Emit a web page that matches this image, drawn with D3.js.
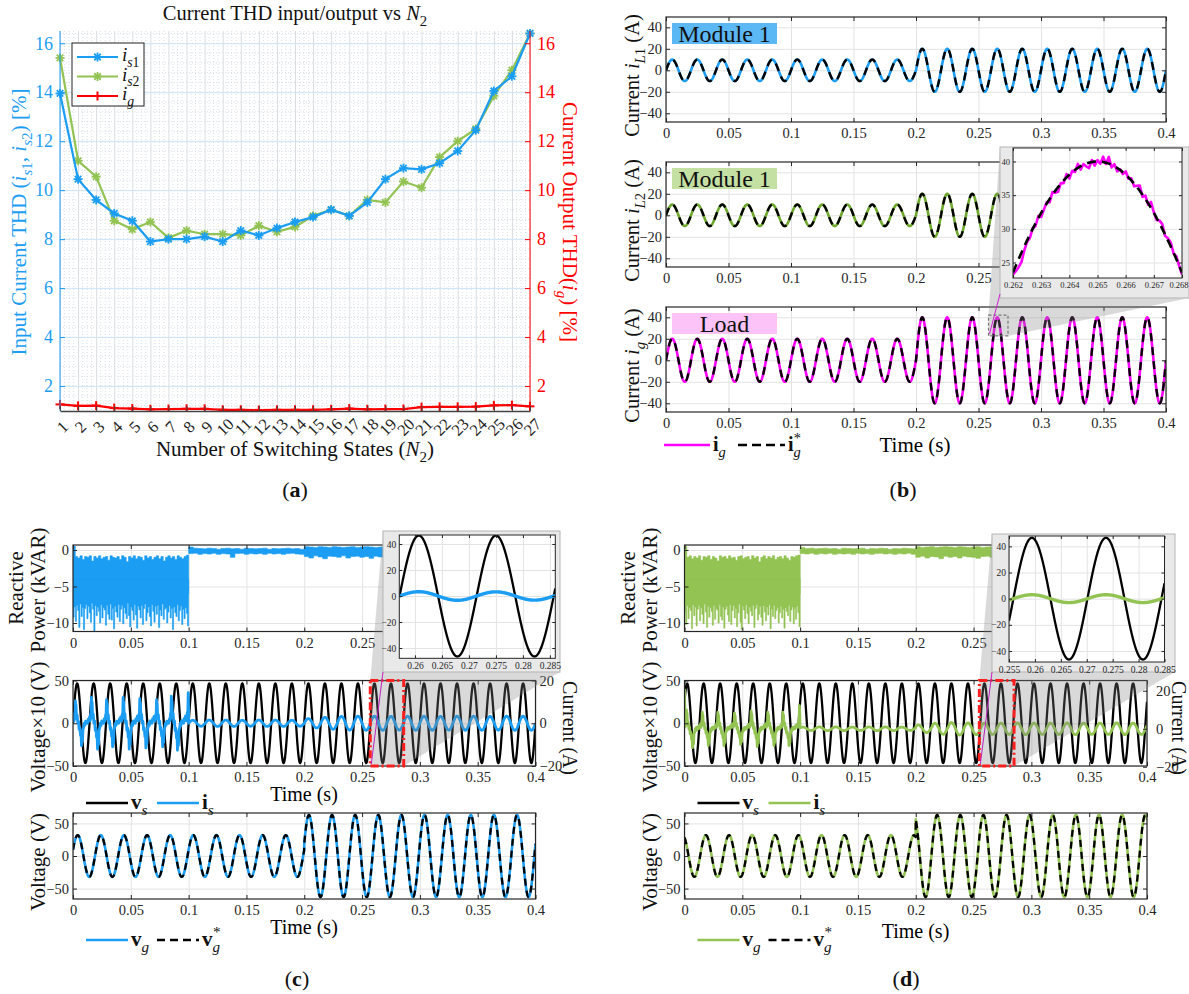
<!DOCTYPE html>
<html><head><meta charset="utf-8">
<script src="https://cdn.jsdelivr.net/npm/d3@7"></script>
<style>
body{margin:0;background:#fff;}
svg{display:block;font-family:"Liberation Serif","DejaVu Serif",serif;}
</style></head><body>
<script>
// ================= DATA =================
// (a) THD vs number of switching states
const n2States = [1,2,3,4,5,6,7,8,9,10,11,12,13,14,15,16,17,18,19,20,21,22,23,24,25,26,27];
const thdIs1 = [13.95,10.45,9.6,9.05,8.75,7.9,8.0,8.0,8.1,7.9,8.35,8.15,8.45,8.7,8.9,9.2,8.95,9.5,10.45,10.9,10.85,11.1,11.6,12.45,14.05,14.65,16.4];
const thdIs2 = [15.4,11.2,10.55,8.75,8.4,8.7,8.05,8.35,8.2,8.2,8.15,8.55,8.3,8.5,8.95,9.2,8.95,9.6,9.5,10.35,10.1,11.35,12.0,12.5,13.85,14.9,16.4];
const thdIg  = [1.25,1.19,1.2,1.1,1.08,1.05,1.06,1.07,1.07,1.03,1.03,1.02,1.03,1.03,1.03,1.05,1.08,1.05,1.06,1.06,1.14,1.15,1.15,1.16,1.21,1.22,1.17];
const thdTicks = [2,4,6,8,10,12,14,16];

// (b) inductor / load currents
const timeTicks = [0,0.05,0.1,0.15,0.2,0.25,0.3,0.35,0.4];
const currentTicks = [-40,-20,0,20,40];
const loadFreqHz = 50;
const stepTime = 0.2;
const iL1Amp = [10,20];
const iL2Amp = [10,20];
const igAmp = [20,40];
const zoomBTime = [0.262,0.268];
const zoomBRange = [22.7,42];
const zoomBTicksX = [0.262,0.263,0.264,0.265,0.266,0.267,0.268];
const zoomBTicksY = [25,30,35,40];
const igRipple = [-0.3,-0.8,-1.2,-1.4,-0.6,-0.2,-0.5,0.1,-0.4,0.3,-0.6,-0.2,0.2,-0.5,0.4,-0.3,-0.7,0.1,-0.4,0.5,-0.6,0.2,-0.3,0.6,-0.5,0.1,-0.4,-0.8,0.3,-0.6,0.2,-0.3,0.8,-0.2,1.0,-0.4,0.3,-0.5,0.1,-0.3,0.5,-0.2,0.3,-0.4,0.2,0.8,-0.3,0.5,-0.2,0.9,0.1,-0.3,0.4,0.7,-0.2,0.3,0.6,-0.1,0.4,0.0,-0.3];

// (c)/(d) source side
const sourceFreqHz = 70;
const vsAmp = 46.5;
const vsPhase = {c:0, d:0.57};
const vgAmp = [32,63];
const vgPhase = {c:0.3, d:2.04};
const isShapePhase = [0,0.03,0.05,0.08,0.10,0.12,0.15,0.19,0.23,0.27,0.31,0.35,0.39,0.42,0.45,0.48,0.51,0.54,0.58,0.62,0.66,0.70,0.74,0.78,0.82,0.86,0.90,0.94,0.97,1.0];
const isShapeValue = [1,4,2,11,6,9,3,4,0,1,-3,-2,-6,-4,-11,-6,-9,-3,-2,0,-1,1,0,1,0,2,1,3,2,1];
const isCycleStartC = [0.0009,0.0148,0.0278,0.0422,0.0566,0.0711,0.0839,0.0985];
const isCycleScaleC = [0.95,1.1,1.0,1.1,1.05,1.0,1.15,1.3];
const isCycleStartD = [0.0005,0.0142,0.0277,0.0421,0.0565,0.0709,0.0839,0.0983];
const isCycleScaleD = [0.9,0.8,0.8,0.75,0.85,0.8,0.8,1.1];
const isFirstC = 5, isFirstD = 21;
const isAmpC = [1.4,1.5,1.5,1.4,1.5,1.5,1.4,2.2,2.8,3.2,3.3,3.3,3.2,3.3,3.3,3.2,3.3,3.3,3.2,3.3,3.3];
const isAmpD = [0.9,1.0,1.0,0.9,1.0,1.0,0.9,2.0,2.9,3.3,3.1,3.0,3.0,3.1,3.0,3.0,3.1,3.0,3.0,3.1,3.0];
const qTicks = [-10,-5,0];
const voltTicks = [-50,0,50];
const curRTicks = [-20,0,20];
const qTopC = [0.5,-0.9,-1.1,-0.8,-1.3,-0.9,-1.0,-0.8,-1.5,-0.9,-1.1,-0.8,-1.2,-1.0,-0.9,-1.4,-0.8,-1.0,-1.1,-0.9,-1.3,-0.8,-1.0,-1.6,-0.9,-1.1,-0.8,-1.2,-0.9,-1.0,-1.4,-0.8,-1.1,-0.9,-1.3,-1.0,-0.8,-1.2,-0.9,-1.5,-1.0,-0.8,-1.1,-0.9,-1.3,-0.8,-1.0,-1.2,-0.9,-0.7];
const qBotC = [-9.2,-7.8,-9.8,-7.6,-8.3,-10.6,-7.4,-9.1,-7.9,-10.9,-8.0,-7.5,-9.4,-7.7,-8.6,-9.9,-7.3,-8.1,-11.2,-7.6,-9.0,-7.8,-8.4,-10.0,-7.5,-9.3,-7.9,-8.2,-10.3,-7.6,-8.8,-9.5,-7.4,-9.6,-8.0,-10.8,-7.7,-8.5,-9.2,-7.5,-9.8,-8.1,-7.6,-10.1,-7.9,-8.7,-9.4,-7.3,-9.0,-10.5,-7.8,-8.3,-9.6,-7.5,-8.9,-10.7,-7.7,-8.2,-9.3,-7.6,-10.2,-8.0,-7.4,-9.7,-8.6,-7.8,-9.1,-10.4,-7.5,-8.4,-9.9,-7.7,-8.8,-7.6,-10.6,-8.2,-9.0,-7.4,-9.5,-8.1,-7.9,-10.0,-8.5,-7.6,-9.3,-8.0,-10.9,-7.8,-8.6,-9.1,-7.5,-9.7,-8.3,-7.7,-10.2,-8.1,-9.4,-7.9,-8.7,-10.4];
const qBandTopC = [0.4,0.25,0.2,0.15,0.25,0.2,0.1,0.2,0.25,0.15,0.2,0.1,0.25,0.2,0.15,0.2,0.25,0.1,0.2,0.15,0.2,0.25,0.15,0.2,0.1,0.45,0.4,0.35,0.45,0.4,0.35,0.45,0.4,0.35,0.4,0.45,0.35,0.4,0.45,0.4,0.35,0.4,0.45,0.4,0.35,0.4];
const qBandBotC = [-0.5,-0.45,-0.6,-0.5,-0.55,-0.45,-0.6,-0.5,-0.55,-1.0,-0.5,-0.45,-0.6,-0.5,-0.55,-0.5,-0.6,-0.45,-0.55,-0.5,-0.6,-0.5,-0.45,-0.55,-0.6,-0.9,-1.1,-0.8,-0.95,-1.2,-0.85,-0.9,-1.0,-0.8,-1.1,-0.9,-0.85,-1.0,-0.9,-1.15,-0.85,-0.95,-1.0,-0.8,-0.9,-1.0];
const qTopD = [0.5,-1.0,-0.8,-1.2,-0.9,-1.1,-0.8,-1.4,-0.9,-1.0,-0.8,-1.3,-0.9,-1.1,-1.5,-0.8,-1.0,-0.9,-1.2,-0.8,-1.1,-1.0,-1.4,-0.9,-0.8,-1.2,-1.0,-0.9,-1.3,-0.8,-1.1,-0.9,-1.6,-1.0,-0.8,-1.2,-0.9,-1.1,-0.8,-1.3,-1.0,-0.9,-1.2,-0.8,-1.1,-1.4,-0.9,-1.0,-0.8,-0.7];
const qBotD = [-8.6,-10.2,-7.6,-9.4,-7.9,-8.3,-10.8,-7.5,-9.0,-7.8,-10.4,-8.1,-7.6,-9.7,-7.9,-8.8,-10.1,-7.4,-8.5,-10.6,-7.7,-9.2,-7.9,-8.4,-10.3,-7.6,-9.5,-8.0,-8.2,-10.0,-7.5,-9.1,-9.6,-7.8,-10.7,-8.1,-7.7,-8.9,-9.8,-7.5,-10.2,-8.3,-7.6,-9.3,-8.0,-10.5,-8.6,-7.4,-9.9,-10.9,-7.7,-8.2,-9.4,-7.5,-8.7,-10.1,-7.8,-8.4,-9.0,-7.6,-10.6,-8.0,-7.5,-9.6,-8.8,-7.7,-9.2,-10.3,-7.6,-8.5,-9.7,-7.8,-8.9,-7.5,-10.8,-8.1,-9.1,-7.6,-9.4,-8.3,-7.9,-10.0,-8.6,-7.7,-9.3,-8.1,-10.7,-7.9,-8.4,-9.0,-7.6,-9.8,-8.2,-7.8,-10.1,-8.0,-9.5,-7.7,-8.6,-10.5];
const qBandTopD = [0.35,0.2,0.25,0.15,0.2,0.25,0.15,0.2,0.1,0.25,0.2,0.15,0.2,0.25,0.1,0.2,0.15,0.25,0.2,0.1,0.2,0.15,0.25,0.2,0.15,0.45,0.35,0.4,0.45,0.35,0.4,0.45,0.4,0.35,0.45,0.4,0.35,0.4,0.45,0.35,0.4,0.45,0.35,0.4,0.45,0.4];
const qBandBotD = [-0.5,-0.55,-0.45,-0.6,-0.5,-0.55,-0.45,-0.6,-0.5,-0.55,-0.5,-0.6,-0.45,-0.55,-0.5,-0.6,-0.5,-0.45,-0.55,-0.5,-0.6,-0.5,-0.55,-0.45,-0.6,-1.0,-0.85,-1.1,-0.9,-0.95,-1.2,-0.85,-1.0,-0.9,-1.1,-0.85,-0.95,-1.0,-1.15,-0.9,-0.85,-1.0,-0.95,-0.9,-1.05,-0.9];
const zoomCTime = [0.2571,0.286];
const zoomDTime = [0.255,0.285];
const zoomCTicksX = [0.26,0.265,0.27,0.275,0.28,0.285];
const zoomDTicksX = [0.255,0.26,0.265,0.27,0.275,0.28,0.285];
const zoomVTicks = [-40,-20,0,20,40];

// ================= HELPERS =================
const W = 1189, H = 994, TWO_PI = 2*Math.PI;
const FONT = '"Liberation Serif","DejaVu Serif",serif';
const svg = d3.select("body").append("svg").attr("width",W).attr("height",H);
svg.append("rect").attr("width",W).attr("height",H).attr("fill","#fff");
let clipN = 0;
function clip(x0,y0,x1,y1){
  const id = "clip"+(clipN++);
  svg.append("clipPath").attr("id",id).append("rect").attr("x",x0).attr("y",y0).attr("width",x1-x0).attr("height",y1-y0);
  return `url(#${id})`;
}
const fmt = v => String(+(+v).toFixed(6)).replace("-","\u2212");
function rich(g,x,y,segs,o={}){
  const S = o.size||16;
  const t = g.append("text").attr("x",x).attr("y",y).attr("font-size",S)
    .attr("fill",o.fill||"#111").attr("text-anchor",o.anchor||"start").attr("font-family",FONT);
  if(o.rotate!==undefined) t.attr("transform",`rotate(${o.rotate},${x},${y})`);
  if(o.bold) t.attr("font-weight","bold");
  let shift = 0;
  segs.forEach(s=>{
    if(typeof s==="string") s={t:s};
    const want = s.sub?0.3:(s.sup?-0.42:0);
    const ts = t.append("tspan").text(s.t);
    if(want!==shift){ ts.attr("dy",((want-shift)*S).toFixed(2)); shift=want; }
    if(s.dx) ts.attr("dx",s.dx);
    if(s.sub||s.sup) ts.attr("font-size",S*0.72);
    if(s.it) ts.attr("font-style","italic");
    if(s.b) ts.attr("font-weight","bold");
  });
  return t;
}
function sampleTimes(t0,t1,dt){ const n=Math.round((t1-t0)/dt); return d3.range(n+1).map(i=>t0+(t1-t0)*i/n); }
function stepSine(amps,f,phase){ return t => (t<stepTime?amps[0]:amps[1])*Math.sin(TWO_PI*f*t+phase); }

function makeAxes(o){
  const x = d3.scaleLinear().domain(o.xd).range([o.x0,o.x1]);
  const y = d3.scaleLinear().domain(o.yd).range([o.y1,o.y0]);
  const g = svg.append("g");
  g.append("rect").attr("x",o.x0).attr("y",o.y0).attr("width",o.x1-o.x0).attr("height",o.y1-o.y0).attr("fill","#fff");
  const gx = g.append("g").attr("transform",`translate(0,${o.y1})`)
    .call(d3.axisBottom(x).tickValues(o.xt).tickSize(-(o.y1-o.y0)).tickSizeOuter(0).tickFormat(""));
  gx.select(".domain").remove(); gx.selectAll("line").attr("stroke",o.grid||"#e3e3e3");
  gx.selectAll("text").remove();
  const gy = g.append("g").attr("transform",`translate(${o.x0},0)`)
    .call(d3.axisLeft(y).tickValues(o.yt).tickSize(-(o.x1-o.x0)).tickSizeOuter(0).tickFormat(""));
  gy.select(".domain").remove(); gy.selectAll("line").attr("stroke",o.grid||"#e3e3e3");
  gy.selectAll("text").remove();
  const data = g.append("g").attr("clip-path",clip(o.x0,o.y0,o.x1,o.y1));
  return {x,y,g,data,o};
}
function styleAxis(sel,fs,color){
  sel.attr("font-family",FONT).attr("font-size",fs).attr("color",color||"#262626");
  sel.select(".domain").remove();
}
function finishAxes(A){
  const o=A.o, g=A.g.append("g"), fs=o.fs||14.5, tl=o.tl||4, col="#262626";
  // labels hidden behind an inset are not drawn
  const xtLab = o.xt.filter(v=>o.hideAbove===undefined || A.x(v)<o.hideAbove);
  const b = g.append("g").attr("transform",`translate(0,${o.y1})`)
    .call(d3.axisBottom(A.x).tickValues(o.xt).tickSize(-tl).tickSizeOuter(0).tickPadding(o.xpad||5)
      .tickFormat(v=>xtLab.includes(v)?fmt(v):""));
  styleAxis(b,fs);
  b.selectAll("text").filter(function(){return this.textContent==="";}).remove();
  if(o.lastEnd) b.selectAll(".tick:last-of-type text").attr("text-anchor","end").attr("dx",o.lastEnd);
  const t = g.append("g").attr("transform",`translate(0,${o.y0})`)
    .call(d3.axisTop(A.x).tickValues(o.xt).tickSize(-tl).tickSizeOuter(0).tickFormat(""));
  styleAxis(t,fs); t.selectAll("text").remove();
  const l = g.append("g").attr("transform",`translate(${o.x0},0)`)
    .call(d3.axisLeft(A.y).tickValues(o.yt).tickSize(-tl).tickSizeOuter(0).tickPadding(o.ypad||4).tickFormat(fmt));
  styleAxis(l,fs);
  if(o.yr){
    const r = g.append("g").attr("transform",`translate(${o.x1},0)`)
      .call(d3.axisRight(o.yr).tickValues(o.yrt).tickSize(-tl).tickSizeOuter(0).tickPadding(o.rpad||4).tickFormat(fmt));
    styleAxis(r,fs);
  } else {
    const r = g.append("g").attr("transform",`translate(${o.x1},0)`)
      .call(d3.axisRight(A.y).tickValues(o.yt).tickSize(-tl).tickSizeOuter(0).tickFormat(""));
    styleAxis(r,fs); r.selectAll("text").remove();
  }
  g.append("rect").attr("x",o.x0).attr("y",o.y0).attr("width",o.x1-o.x0).attr("height",o.y1-o.y0)
    .attr("fill","none").attr("stroke",col).attr("stroke-width",o.bw||1.2);
}
function drawLine(A,pts,color,w,dash,yScale){
  const ys = yScale||A.y;
  const p = A.data.append("path").datum(pts)
    .attr("d",d3.line().x(d=>A.x(d[0])).y(d=>ys(d[1])))
    .attr("fill","none").attr("stroke",color).attr("stroke-width",w).attr("stroke-linejoin","round");
  if(dash) p.attr("stroke-dasharray",dash);
  return p;
}
function panelLabel(x,y,l){ rich(svg,x,y,["(",{t:l,b:true},")"],{size:22,anchor:"middle"}); }
function cone(parent,rx0,rx1,ry0,ry1,F){
  parent.append("polygon").attr("points",[[rx0,ry1],[rx0,ry0],[F.x0,F.y0],[F.x1,F.y0],[F.x1,F.y1],[rx1,ry1]].map(p=>p.join(",")).join(" "))
    .attr("fill","#808080").attr("fill-opacity",0.3);
}

// ================= PANEL (a) =================
(function(){
  const BLUE="#1a9df2", GREEN="#92c353", RED="#ff0000";
  const x = d3.scaleLinear().domain([1,27]).range([60,530]);
  const y = d3.scaleLinear().domain([0.98,16.5]).range([411,31]);
  const g = svg.append("g");
  const minor = g.append("g").attr("stroke","#c9d3de").attr("stroke-width",0.7).attr("stroke-dasharray","1,2");
  d3.range(1.2,16.45,0.4).forEach(v=>minor.append("line").attr("x1",60).attr("x2",530).attr("y1",y(v)).attr("y2",y(v)));
  n2States.slice(0,-1).forEach(n=>[0.25,0.5,0.75].forEach(f=>minor.append("line").attr("x1",x(n+f)).attr("x2",x(n+f)).attr("y1",31).attr("y2",411)));
  const gv = g.append("g").attr("transform","translate(0,411)")
    .call(d3.axisBottom(x).tickValues(n2States).tickSize(-380).tickFormat(""));
  gv.select(".domain").remove(); gv.selectAll("line").attr("stroke","#d9dde2").attr("stroke-width",1); gv.selectAll("text").remove();
  const gh = g.append("g").attr("transform","translate(60,0)")
    .call(d3.axisLeft(y).tickValues(thdTicks).tickSize(-470).tickFormat(""));
  gh.select(".domain").remove(); gh.selectAll("line").attr("stroke","#cfe4f5").attr("stroke-width",1); gh.selectAll("text").remove();
  const line = d3.line().x((d,i)=>x(n2States[i])).y(d=>y(d));
  const series = [[thdIs2,GREEN,"star"],[thdIs1,BLUE,"star"],[thdIg,RED,"plus"]];
  function marker(sel,cx,cy,type,color){
    const r=4.5;
    const m = sel.append("g").attr("stroke",color).attr("stroke-width",type==="plus"?2:1.8);
    m.append("line").attr("x1",cx-r).attr("x2",cx+r).attr("y1",cy).attr("y2",cy);
    m.append("line").attr("x1",cx).attr("x2",cx).attr("y1",cy-r).attr("y2",cy+r);
    if(type==="star"){
      const q=r*0.72;
      m.append("line").attr("x1",cx-q).attr("x2",cx+q).attr("y1",cy-q).attr("y2",cy+q);
      m.append("line").attr("x1",cx-q).attr("x2",cx+q).attr("y1",cy+q).attr("y2",cy-q);
    }
  }
  const dg = g.append("g").attr("clip-path",clip(55,25,536,412));
  series.forEach(([vals,color,type])=>{
    dg.append("path").datum(vals).attr("d",line).attr("fill","none").attr("stroke",color).attr("stroke-width",2.2);
    vals.forEach((v,i)=>marker(dg,x(n2States[i]),y(v),type,color));
  });
  const la = g.append("g").attr("transform","translate(60,0)")
    .call(d3.axisLeft(y).tickValues(thdTicks).tickSize(-5).tickSizeOuter(0).tickPadding(7));
  la.attr("font-family",FONT).attr("font-size",18).attr("color",BLUE);
  la.select(".domain").attr("d","M0,31V411");
  const ra = g.append("g").attr("transform","translate(530,0)")
    .call(d3.axisRight(y).tickValues(thdTicks).tickSize(-5).tickSizeOuter(0).tickPadding(7));
  ra.attr("font-family",FONT).attr("font-size",18).attr("color",RED);
  ra.select(".domain").attr("d","M0,31V411");
  const ba = g.append("g").attr("transform","translate(0,411)")
    .call(d3.axisBottom(x).tickValues(n2States).tickSize(-5).tickSizeOuter(0));
  ba.attr("font-family",FONT).attr("font-size",16.5).attr("color","#444");
  ba.select(".domain").attr("stroke-width",1.6);
  ba.selectAll("text").attr("y",0).attr("dy",null).attr("text-anchor","middle")
    .attr("dominant-baseline","central").attr("transform","translate(2,16) rotate(-45)").attr("fill","#222");
  const lg = g.append("g");
  lg.append("rect").attr("x",72).attr("y",43).attr("width",72).attr("height",63).attr("fill","#fff").attr("stroke","#222");
  [[BLUE,"star","1",57],[GREEN,"star","2",76.5],[RED,"plus",null,96]].forEach(([c,tp,sub,yy])=>{
    lg.append("line").attr("x1",77).attr("x2",118).attr("y1",yy).attr("y2",yy).attr("stroke",c).attr("stroke-width",2.2);
    marker(lg,97.5,yy,tp,c);
    const segs = sub?[{t:"i",it:true},{t:"s",it:true,sub:true},{t:sub,sub:true}]:[{t:"i",it:true},{t:"g",it:true,sub:true}];
    rich(lg,122,yy+4,segs,{size:19});
  });
  rich(g,295,20,["Current THD input/output vs ",{t:"N",it:true},{t:"2",sub:true}],{size:20.5,anchor:"middle"});
  rich(g,295,456,["Number of Switching States (",{t:"N",it:true},{t:"2",sub:true},")"],{size:21,anchor:"middle"});
  rich(g,26,222,["Input Current THD (",{t:"i",it:true},{t:"s",it:true,sub:true},{t:"1",sub:true},", ",{t:"i",it:true},{t:"s",it:true,sub:true},{t:"2",sub:true},") [%]"],{size:21,anchor:"middle",rotate:-90,fill:BLUE});
  rich(g,563,222,["Current Output THD(",{t:"i",it:true},{t:"g",it:true,sub:true},") [%]"],{size:21,anchor:"middle",rotate:90,fill:RED});
  panelLabel(295,497,"a");
})();

// ================= PANEL (b) =================
(function(){
  const X0=666, X1=1166, YD=[-48.1,49.6];
  const rows = [[17,122],[162,267],[307,412]];
  const colors = ["#1a9df2","#6ea82c","#ff00ff"];
  const amps = [iL1Amp,iL2Amp,igAmp];
  const boxes = [["#5cb8f4","Module 1"],["#c5e0a3","Module 1"],["#fcc3f8","Load"]];
  const ylabSub = [["L","1"],["L","2"],["g",null]];
  const times = sampleTimes(0,0.4,0.0002);
  const A = rows.map((r,i)=>{
    const o = {x0:X0,x1:X1,y0:r[0],y1:r[1],xd:[0,0.4],yd:YD,xt:timeTicks,yt:currentTicks,xpad:6};
    if(i===1) o.hideAbove = 1000;
    const ax = makeAxes(o);
    const fn = stepSine(amps[i],loadFreqHz,0);
    const pts = times.map(t=>[t,fn(t)]);
    drawLine(ax,pts,colors[i],2.6);
    drawLine(ax,pts,"#000",2.4,"8,6");
    finishAxes(ax);
    svg.append("rect").attr("x",672).attr("y",r[0]+6).attr("width",105).attr("height",21).attr("fill",boxes[i][0]);
    svg.append("text").attr("x",724.5).attr("y",r[0]+24.5).attr("text-anchor","middle").attr("font-size",24)
      .attr("font-family",FONT).attr("fill","#111").text(boxes[i][1]);
    const sub = ylabSub[i];
    const segs = ["Current ",{t:"i",it:true},{t:sub[0],it:true,sub:true}];
    if(sub[1]) segs.push({t:sub[1],sub:true});
    segs.push(" (A)");
    rich(svg,639,(r[0]+r[1])/2+6,segs,{size:20.5,anchor:"middle",rotate:-90});
    return ax;
  });
  const a3 = A[2];
  const rx0 = a3.x(zoomBTime[0])-5, rx1 = a3.x(zoomBTime[1])+7, ry0 = a3.y(zoomBRange[1]), ry1 = a3.y(zoomBRange[0]);
  const F = {x0:1000,x1:1189,y0:147,y1:298};
  cone(svg,rx0,rx1,ry0,ry1,F);
  svg.append("rect").attr("x",rx0).attr("y",ry0).attr("width",rx1-rx0).attr("height",ry1-ry0)
    .attr("fill","none").attr("stroke","#777").attr("stroke-width",1.2).attr("stroke-dasharray","3,2");
  svg.append("rect").attr("x",F.x0).attr("y",F.y0).attr("width",F.x1-F.x0).attr("height",F.y1-F.y0)
    .attr("fill","#e9e9e9").attr("stroke","#b5b5b5");
  svg.append("line").attr("x1",rx0+1).attr("y1",ry1-2).attr("x2",F.x0).attr("y2",F.y1-4).attr("stroke","#d020d0").attr("stroke-width",1);
  const Z = makeAxes({x0:1013,x1:1182,y0:148,y1:278,xd:zoomBTime,yd:zoomBRange,xt:zoomBTicksX,yt:zoomBTicksY,fs:8.5,tl:3,xpad:4,ypad:3,bw:1,lastEnd:6});
  const ref = stepSine(igAmp,loadFreqHz,0);
  const zt = sampleTimes(zoomBTime[0],zoomBTime[1],0.00002);
  const meas = igRipple.map((r,i)=>{const t=zoomBTime[0]+i*0.0001; return [t, ref(t)+r];});
  drawLine(Z,meas,"#ff00ff",2.6);
  drawLine(Z,zt.map(t=>[t,ref(t)]),"#000",2.6,"9,6");
  finishAxes(Z);
  const ly=451;
  svg.append("line").attr("x1",664).attr("x2",710).attr("y1",ly-6).attr("y2",ly-6).attr("stroke","#ff00ff").attr("stroke-width",2.6);
  rich(svg,713,ly,[{t:"i",b:true},{t:"g",it:true,sub:true}],{size:20});
  svg.append("line").attr("x1",738).attr("x2",785).attr("y1",ly-6).attr("y2",ly-6).attr("stroke","#000").attr("stroke-width",2.6).attr("stroke-dasharray","9,5");
  rich(svg,788,ly,[{t:"i",b:true},{t:"g",it:true,sub:true},{t:"*",sup:true,dx:-7}],{size:20});
  svg.append("text").attr("x",915).attr("y",452).attr("text-anchor","middle").attr("font-size",21).attr("font-family",FONT).text("Time (s)");
  panelLabel(903,497,"b");
})();

// ================= PANELS (c) and (d) =================
function drawCD(P){
  const X0=P.x0, X1=P.x0+462.5;
  const vs = t => vsAmp*Math.sin(TWO_PI*sourceFreqHz*t+P.vsPh);
  function isFn(){
    const pts=[[0,P.isFirst]];
    P.starts.forEach((s,k)=>{
      const end = k<P.starts.length-1 ? P.starts[k+1] : 0.1;
      isShapePhase.forEach((p,j)=>{ const t=s+p/sourceFreqHz; if(t>0 && t<end) pts.push([t,P.scales[k]*isShapeValue[j]]); });
    });
    return pts;
  }
  const isAfter = t => { const k=Math.max(0,Math.min(P.isAmp.length-1,Math.floor((t-0.1)*sourceFreqHz))); return P.isAmp[k]*Math.sin(TWO_PI*sourceFreqHz*t+P.vsPh); };
  const F=P.frame;
  // ---- sub1 reactive power
  const A1 = makeAxes({x0:X0,x1:X1,y0:545,y1:631.5,xd:[0,0.4],yd:[-11.16,0.68],xt:timeTicks,yt:qTicks,xpad:6,hideAbove:F.x0});
  const area = (pts,base)=>A1.data.append("path").datum(pts)
    .attr("d",d3.area().x(d=>A1.x(d[0])).y0(A1.y(base)).y1(d=>A1.y(d[1])).curve(d3.curveStepAfter))
    .attr("fill",P.color).attr("stroke",P.color).attr("stroke-width",0.6);
  const topPts = P.qTop.map((v,i)=>[i*0.002,v]); topPts.push([0.1,P.qTop[P.qTop.length-1]]);
  const botPts = P.qBot.map((v,i)=>[i*0.001,v]); botPts.push([0.1,P.qBot[P.qBot.length-1]]);
  area(topPts,-6); area(botPts,-4);
  const bandPts = P.qBandTop.map((v,i)=>[0.1+i*0.004,v,P.qBandBot[i]]);
  A1.data.append("path").datum(bandPts)
    .attr("d",d3.area().x(d=>A1.x(d[0])).y0(d=>A1.y(d[2])).y1(d=>A1.y(d[1])).curve(d3.curveStepAfter))
    .attr("fill",P.color).attr("stroke",P.color).attr("stroke-width",0.6);
  finishAxes(A1);
  rich(svg,X0-50,588,["Reactive"],{size:21,anchor:"middle",rotate:-90});
  rich(svg,X0-28,590,["Power (kVAR)"],{size:21,anchor:"middle",rotate:-90});
  // ---- sub2 voltage & current
  const yR = d3.scaleLinear().domain(P.rightD).range([766,680.5]);
  const A2 = makeAxes({x0:X0,x1:X1,y0:680.5,y1:766,xd:[0,0.4],yd:[-50,50],xt:timeTicks,yt:voltTicks,xpad:6,yr:yR,yrt:curRTicks,rpad:P.rpad});
  const rx0=A2.x(P.zoomT[0]), rx1=A2.x(P.zoomT[1]), ry0=680.5, ry1=766;
  const tt = sampleTimes(0,0.4,0.0001);
  drawLine(A2,tt.map(t=>[t,vs(t)]),"#000",2.3);
  const isPts = isFn().concat(sampleTimes(0.1,0.4,0.0002).map(t=>[t,isAfter(t)]));
  drawLine(A2,isPts,P.color,2.8,null,yR);
  finishAxes(A2);
  rich(svg,X0-28,727,["Voltage\u00d710 (V)"],{size:21,anchor:"middle",rotate:-90});
  rich(svg,X1+P.rlabOff,728,["Current (A)"],{size:20,anchor:"middle",rotate:90});
  // ---- sub3 vg
  const A3 = makeAxes({x0:X0,x1:X1,y0:813,y1:899,xd:[0,0.4],yd:[-66,66],xt:timeTicks,yt:voltTicks,xpad:6});
  const vg = stepSine(vgAmp,loadFreqHz,P.vgPh);
  const vgPts = tt.map(t=>[t,vg(t)]);
  drawLine(A3,vgPts,P.color,2.6);
  drawLine(A3,vgPts,"#000",2.3,"7,5");
  finishAxes(A3);
  rich(svg,X0-28,862,["Voltage (V)"],{size:21,anchor:"middle",rotate:-90});
  if(P.time2) svg.append("text").attr("x",X0+231).attr("y",801).attr("text-anchor","middle").attr("font-size",20).attr("font-family",FONT).text("Time (s)");
  svg.append("text").attr("x",X0+231).attr("y",P.time3y).attr("text-anchor","middle").attr("font-size",20).attr("font-family",FONT).text("Time (s)");
  let ly=809;
  svg.append("line").attr("x1",X0+13).attr("x2",X0+55).attr("y1",ly-6).attr("y2",ly-6).attr("stroke","#000").attr("stroke-width",2.6);
  rich(svg,X0+58,ly,[{t:"v",b:true},{t:"s",it:true,sub:true}],{size:21});
  svg.append("line").attr("x1",X0+84).attr("x2",X0+126).attr("y1",ly-6).attr("y2",ly-6).attr("stroke",P.color).attr("stroke-width",2.6);
  rich(svg,X0+129,ly,[{t:"i",b:true},{t:"s",it:true,sub:true}],{size:21});
  ly=946;
  svg.append("line").attr("x1",X0+13).attr("x2",X0+55).attr("y1",ly-6).attr("y2",ly-6).attr("stroke",P.color).attr("stroke-width",2.6);
  rich(svg,X0+58,ly,[{t:"v",b:true},{t:"g",it:true,sub:true}],{size:21});
  svg.append("line").attr("x1",X0+84).attr("x2",X0+126).attr("y1",ly-6).attr("y2",ly-6).attr("stroke","#000").attr("stroke-width",2.6).attr("stroke-dasharray","8,5");
  rich(svg,X0+129,ly,[{t:"v",b:true},{t:"g",it:true,sub:true},{t:"*",sup:true,dx:-7}],{size:21});
  // ---- zoom cone + inset
  cone(svg,rx0,rx1,ry0,ry1,F);
  svg.append("rect").attr("x",rx0).attr("y",ry0).attr("width",rx1-rx0).attr("height",ry1-ry0)
    .attr("fill","none").attr("stroke","#ff1f1f").attr("stroke-width",3).attr("stroke-dasharray","8,3,2,3");
  svg.append("rect").attr("x",F.x0).attr("y",F.y0).attr("width",F.x1-F.x0).attr("height",F.y1-F.y0)
    .attr("fill","#e9e9e9").attr("stroke","#b5b5b5");
  svg.append("line").attr("x1",rx0+1).attr("y1",ry1-2).attr("x2",F.x0).attr("y2",F.y1).attr("stroke","#c020c0").attr("stroke-width",1);
  const Z = makeAxes({x0:P.zax[0],x1:P.zax[1],y0:P.zax[2],y1:P.zax[3],xd:P.zoomT,yd:P.zoomY,xt:P.zoomTicks,yt:zoomVTicks,fs:9.5,tl:3,xpad:4,ypad:3,bw:1});
  const zt = sampleTimes(P.zoomT[0],P.zoomT[1],0.00002);
  drawLine(Z,zt.map(t=>[t,vs(t)]),"#000",2.3);
  drawLine(Z,zt.map(t=>[t,isAfter(t)]),P.color,3.4);
  finishAxes(Z);
  panelLabel(P.lab[0],P.lab[1],P.lab[2]);
}
drawCD({x0:73,color:"#1a9df2",vsPh:vsPhase.c,vgPh:vgPhase.c,starts:isCycleStartC,scales:isCycleScaleC,isFirst:isFirstC,isAmp:isAmpC,
  qTop:qTopC,qBot:qBotC,qBandTop:qBandTopC,qBandBot:qBandBotC,rightD:[-20,20],rpad:4,rlabOff:27,time2:true,time3y:934,
  zoomT:zoomCTime,zoomY:[-47.9,46.9],zoomTicks:zoomCTicksX,frame:{x0:383,x1:560,y0:531,y1:672},zax:[399.3,555.3,535,658.3],lab:[297,986,"c"]});
drawCD({x0:684.5,color:"#92c353",vsPh:vsPhase.d,vgPh:vgPhase.d,starts:isCycleStartD,scales:isCycleScaleD,isFirst:isFirstD,isAmp:isAmpD,
  qTop:qTopD,qBot:qBotD,qBandTop:qBandTopD,qBandBot:qBandBotD,rightD:[-19.6,25.4],rpad:9,rlabOff:25,time2:false,time3y:938,
  zoomT:zoomDTime,zoomY:[-48.4,47.9],zoomTicks:zoomDTicksX,frame:{x0:992,x1:1175,y0:534,y1:672},zax:[1009,1164.5,536,662],lab:[906,986,"d"]});
</script></body></html>
